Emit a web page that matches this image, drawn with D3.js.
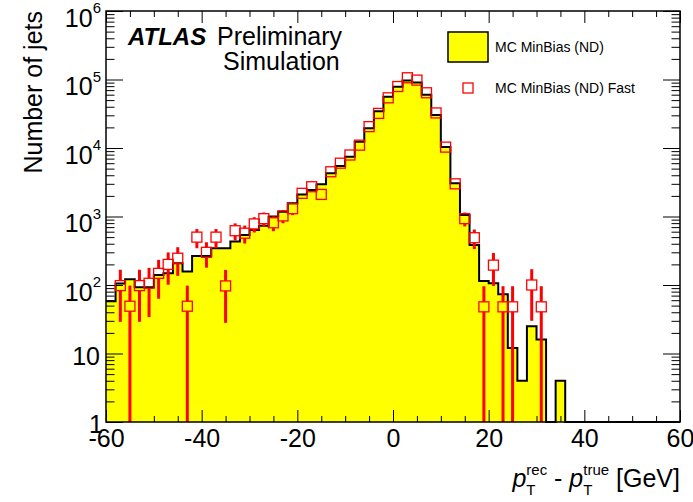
<!DOCTYPE html>
<html><head><meta charset="utf-8">
<script src="https://cdn.jsdelivr.net/npm/d3@7"></script>
<style>
html,body{margin:0;padding:0;background:#fff;}
svg{display:block;font-family:"Liberation Sans",Arial,Helvetica,sans-serif;}
</style>
</head><body>
<svg id="c" width="693" height="502"></svg>
<script>
// ---- data ----
const binCenters = [-59,-57,-55,-53,-51,-49,-47,-45,-43,-41,-39,-37,-35,-33,-31,-29,-27,-25,-23,-21,
  -19,-17,-15,-13,-11,-9,-7,-5,-3,-1,1,3,5,7,9,11,13,15,17,19,
  21,23,25,27,29,31,33,35,37,39,41,43,45,47,49,51,53,55,57,59];
const mcMinBias = [58,105,121,93,93,140,148,207,157,265,
  265,345,345,430,536,635,730,1000,1170,1560,
  2100,2440,2960,4280,5460,7470,12300,19400,34500,56000,
  78500,97000,90500,60000,30200,10300,3050,1050,385,114,
  106,73,12,4,25,16,0,4,0,0,
  0,0,0,0,0,0,0,0,0,0];
const mcMinBiasFast = [0,98,49,98,106,148,200,246,49,500,
  300,500,97,620,570,780,930,810,1020,1300,
  2180,2720,2100,4500,6000,7900,11000,20500,32000,54000,
  79000,106000,98000,64000,32500,10300,3000,930,490,48,
  195,48,48,0,100,48,0,0,0,0,
  0,0,0,0,0,0,0,0,0,0];
const mcMinBiasFastErr = [0,69,49,69,72,85,99,110,49,156,
  121,156,69,174,167,195,213,199,223,252,
  326,365,320,470,542,622,734,1000,1250,1630,
  1970,2280,2190,1770,1260,710,383,213,155,48,
  98,48,48,0,70,48,0,0,0,0,
  0,0,0,0,0,0,0,0,0,0];
const xTickValues = [-60,-40,-20,0,20,40,60];
const xTickLabels = ["-60","-40","-20","0","20","40","60"];
const yTickValues = [1,10,100,1000,10000,100000,1000000];
const yTickLabels = [["1",""],["10",""],["10","2"],["10","3"],["10","4"],["10","5"],["10","6"]];
const legendLabels = ["MC MinBias (ND)","MC MinBias (ND) Fast"];
const binWidth = 2;

// ---- layout ----
const L=106,R=680,T=11,B=422;
const FS=25;
const x = d3.scaleLinear().domain([-60,60]).range([L,R]);
const y = d3.scaleLog().domain([1,1e6]).range([B,T]).clamp(true);
const yv = v => v>0 ? y(v) : B;
const svg = d3.select("#c");

// histogram
const pts = binCenters.map((c,i)=>({x:c-binWidth/2, v:mcMinBias[i]}));
pts.push({x:binCenters[binCenters.length-1]+binWidth/2, v:mcMinBias[mcMinBias.length-1]});
svg.append("path").datum(pts)
  .attr("d", d3.area().curve(d3.curveStepAfter).x(d=>x(d.x)).y0(B).y1(d=>yv(d.v)))
  .attr("fill","#ffff00");
svg.append("path").datum(pts)
  .attr("d", d3.line().curve(d3.curveStepAfter).x(d=>x(d.x)).y(d=>yv(d.v)))
  .attr("fill","none").attr("stroke","#000").attr("stroke-width",2);

// axes ticks
const xMinor = d3.range(-60,61,5).filter(d=>!xTickValues.includes(d));
const yMinor = y.ticks().filter(d=>!yTickValues.includes(d));
function clean(g){ g.select(".domain").remove(); g.selectAll("line").attr("stroke","#000"); }
svg.append("g").attr("transform",`translate(0,${B})`)
  .call(d3.axisBottom(x).tickValues(xTickValues).tickSize(-12).tickFormat((d,i)=>xTickLabels[i]))
  .call(clean)
  .call(g=>g.selectAll("text").attr("y",25).attr("dy",0).attr("font-size",FS)
     .attr("font-family","Liberation Sans, Arial, sans-serif").attr("fill","#000"));
svg.append("g").attr("transform",`translate(0,${B})`)
  .call(d3.axisBottom(x).tickValues(xMinor).tickSize(-6).tickFormat("")).call(clean);
svg.append("g").attr("transform",`translate(0,${T})`)
  .call(d3.axisTop(x).tickValues(xTickValues).tickSize(-12).tickFormat("")).call(clean);
svg.append("g").attr("transform",`translate(0,${T})`)
  .call(d3.axisTop(x).tickValues(xMinor).tickSize(-6).tickFormat("")).call(clean);
svg.append("g").attr("transform",`translate(${L},0)`)
  .call(d3.axisLeft(y).tickValues(yTickValues).tickSize(-17).tickFormat("")).call(clean);
svg.append("g").attr("transform",`translate(${L},0)`)
  .call(d3.axisLeft(y).tickValues(yMinor).tickSize(-8.5).tickFormat("")).call(clean);
svg.append("g").attr("transform",`translate(${R},0)`)
  .call(d3.axisRight(y).tickValues(yTickValues).tickSize(-17).tickFormat("")).call(clean);
svg.append("g").attr("transform",`translate(${R},0)`)
  .call(d3.axisRight(y).tickValues(yMinor).tickSize(-8.5).tickFormat("")).call(clean);

// fast markers with error bars
const ms = 5;
const fastG = svg.append("g");
binCenters.forEach((c,i)=>{
  const v = mcMinBiasFast[i]; if(!(v>0)) return;
  const e = mcMinBiasFastErr[i];
  const cx = x(c), cy = y(v);
  const yHi = y(v+e), yLo = (v-e)>0 ? y(v-e) : B;
  if (yHi < cy-ms) fastG.append("line").attr("x1",cx).attr("x2",cx).attr("y1",yHi).attr("y2",cy-ms)
      .attr("stroke","#ff0000").attr("stroke-width",3);
  if (yLo > cy+ms) fastG.append("line").attr("x1",cx).attr("x2",cx).attr("y1",cy+ms).attr("y2",yLo)
      .attr("stroke","#ff0000").attr("stroke-width",3);
  fastG.append("rect").attr("x",cx-ms).attr("y",cy-ms).attr("width",2*ms).attr("height",2*ms)
    .attr("fill","none").attr("stroke","#ff0000").attr("stroke-width",1.3);
});

// frame
svg.append("rect").attr("x",L).attr("y",T).attr("width",R-L).attr("height",B-T)
  .attr("fill","none").attr("stroke","#000").attr("stroke-width",1.5);

// y tick labels
yTickValues.forEach((v,i)=>{
  const [base,exp] = yTickLabels[i];
  const ty = y(v);
  if (exp) {
    const t = svg.append("text").attr("text-anchor","end").attr("x",101).attr("y",ty+15.5).attr("font-size",FS);
    t.append("tspan").text(base);
    t.append("tspan").attr("font-size",15).attr("dy",-13.5).text(exp);
  } else {
    svg.append("text").attr("text-anchor","end").attr("x", base==="1"?103:100).attr("y",ty+(base==="1"?10.5:11.5))
      .attr("font-size",FS).text(base);
  }
});

// y title
svg.append("text").attr("transform","translate(42,11) rotate(-90)").attr("text-anchor","end")
  .attr("font-size",FS).text("Number of jets");

// x title built from pieces
(function(){
  const g = svg.append("g");
  const BL = 487;
  let cx = 0;
  function piece(txt, opts){
    const t = g.append("text").attr("x",cx).attr("y",BL+(opts.dy||0)).attr("font-size",opts.size||FS)
      .attr("font-style",opts.italic?"italic":"normal").attr("xml:space","preserve").style("white-space","pre").text(txt);
    return t.node().getComputedTextLength();
  }
  function stack(sup, sub){
    const w1 = piece(sup,{size:15,dy:-12});
    const w2 = piece(sub,{size:15,dy:8});
    cx += Math.max(w1,w2);
  }
  cx += piece("p",{italic:true});
  stack("rec","T");
  cx += piece(" - ",{});
  cx += piece("p",{italic:true});
  stack("true","T");
  cx += piece(" [GeV]",{});
  g.attr("transform",`translate(${R-cx},0)`);
})();

// ATLAS label
svg.append("text").attr("x",128).attr("y",45).attr("font-size",24).attr("font-weight","bold")
  .attr("font-style","italic").text("ATLAS");
svg.append("text").attr("x",217).attr("y",45).attr("font-size",FS).text("Preliminary");
svg.append("text").attr("x",223).attr("y",70).attr("font-size",FS).text("Simulation");

// legend
svg.append("rect").attr("x",448).attr("y",32).attr("width",40).attr("height",30)
  .attr("fill","#ffff00").attr("stroke","#000").attr("stroke-width",1.5);
svg.append("text").attr("x",495).attr("y",52).attr("font-size",14).text(legendLabels[0]);
svg.append("rect").attr("x",463).attr("y",83).attr("width",10).attr("height",10)
  .attr("fill","none").attr("stroke","#ff0000").attr("stroke-width",1.3);
svg.append("text").attr("x",495).attr("y",93).attr("font-size",14).text(legendLabels[1]);
</script>
</body></html>
